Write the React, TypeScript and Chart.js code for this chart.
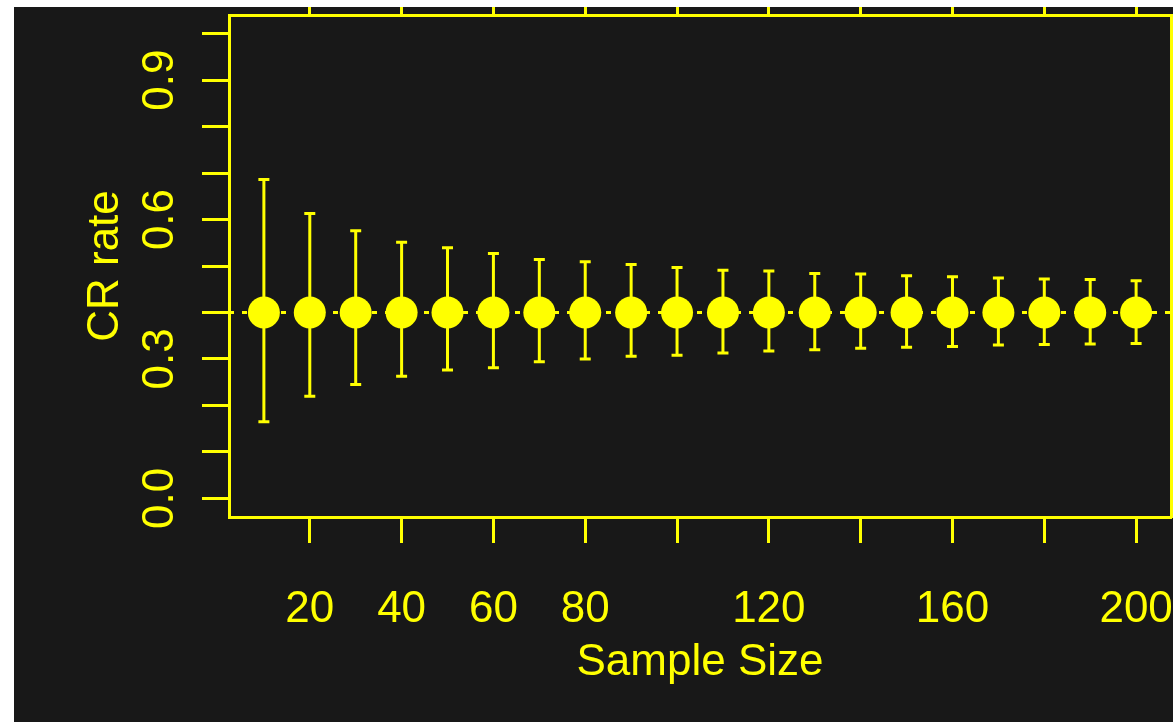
import React, { useEffect, useRef } from "react";
import { Chart, registerables } from "chart.js";

Chart.register(...registerables);

const sampleSizes = [10, 20, 30, 40, 50, 60, 70, 80, 90, 100, 110, 120, 130, 140, 150, 160, 170, 180, 190, 200];
const crRate = [0.4, 0.4, 0.4, 0.4, 0.4, 0.4, 0.4, 0.4, 0.4, 0.4, 0.4, 0.4, 0.4, 0.4, 0.4, 0.4, 0.4, 0.4, 0.4, 0.4];
const ciUpper = [0.686, 0.613, 0.576, 0.551, 0.539, 0.527, 0.514, 0.509, 0.503, 0.497, 0.491, 0.489, 0.484, 0.483, 0.479, 0.477, 0.474, 0.472, 0.471, 0.468];
const ciLower = [0.165, 0.22, 0.245, 0.263, 0.276, 0.281, 0.294, 0.3, 0.306, 0.308, 0.313, 0.317, 0.32, 0.323, 0.325, 0.327, 0.33, 0.331, 0.332, 0.333];
const referenceRate = 0.4;

const xTickValues = [20, 40, 60, 80, 100, 120, 140, 160, 180, 200];
const xTickLabels = ["20", "40", "60", "80", "", "120", "", "160", "", "200"];
const yTickValues = [0, 0.1, 0.2, 0.3, 0.4, 0.5, 0.6, 0.7, 0.8, 0.9, 1.0];
const yLabelValues = [0, 0.3, 0.6, 0.9];
const yLabelTexts = ["0.0", "0.3", "0.6", "0.9"];

const xTitle = "Sample Size";
const yTitle = "CR rate";

const X_MIN = 2.4;
const X_MAX = 207.6;
const Y_MIN = -0.04;
const Y_MAX = 1.04;

const FG = "#ffff00";
const BG = "#181818";
const FONT = '44px "Liberation Sans", Arial, Helvetica, sans-serif';

const W = 1159;
const H = 715;

export default function App() {
  const ref = useRef<HTMLCanvasElement | null>(null);

  useEffect(() => {
    const canvas = ref.current;
    if (!canvas) return;

    const errorBars = {
      id: "errorBars",
      beforeDatasetsDraw(chart: any) {
        const { ctx, chartArea } = chart;
        const xs = chart.scales.x;
        const ys = chart.scales.y;
        ctx.save();
        ctx.strokeStyle = FG;
        ctx.lineWidth = 3;
        ctx.setLineDash([5, 8]);
        const yr = ys.getPixelForValue(referenceRate);
        ctx.beginPath();
        ctx.moveTo(chartArea.left, yr);
        ctx.lineTo(chartArea.right, yr);
        ctx.stroke();
        ctx.setLineDash([]);
        ctx.lineWidth = 3;
        for (let i = 0; i < sampleSizes.length; i++) {
          const px = xs.getPixelForValue(sampleSizes[i]);
          const pu = ys.getPixelForValue(ciUpper[i]);
          const pl = ys.getPixelForValue(ciLower[i]);
          ctx.beginPath();
          ctx.moveTo(px, pu);
          ctx.lineTo(px, pl);
          ctx.moveTo(px - 5.5, pu);
          ctx.lineTo(px + 5.5, pu);
          ctx.moveTo(px - 5.5, pl);
          ctx.lineTo(px + 5.5, pl);
          ctx.stroke();
        }
        ctx.restore();
      },
    };

    const axisText = {
      id: "axisText",
      afterDraw(chart: any) {
        const { ctx, chartArea } = chart;
        const xs = chart.scales.x;
        const ys = chart.scales.y;
        ctx.save();
        ctx.fillStyle = FG;
        ctx.font = FONT;
        ctx.textAlign = "center";
        ctx.textBaseline = "alphabetic";
        for (let i = 0; i < xTickValues.length; i++) {
          if (!xTickLabels[i]) continue;
          ctx.fillText(xTickLabels[i], xs.getPixelForValue(xTickValues[i]), 615);
        }
        ctx.fillText(xTitle, (chartArea.left + chartArea.right) / 2, 668);
        for (let i = 0; i < yLabelValues.length; i++) {
          ctx.save();
          ctx.translate(159, ys.getPixelForValue(yLabelValues[i]));
          ctx.rotate(-Math.PI / 2);
          ctx.fillText(yLabelTexts[i], 0, 0);
          ctx.restore();
        }
        ctx.save();
        ctx.translate(104, (chartArea.top + chartArea.bottom) / 2);
        ctx.rotate(-Math.PI / 2);
        ctx.fillText(yTitle, 0, 0);
        ctx.restore();
        ctx.restore();
      },
    };

    const tickSetX = (scale: any) => {
      scale.ticks = xTickValues.map((v) => ({ value: v }));
    };
    const tickSetY = (scale: any) => {
      scale.ticks = yTickValues.map((v) => ({ value: v }));
    };

    const gridOpts = (len: number) => ({
      display: true,
      drawOnChartArea: false,
      drawTicks: true,
      tickLength: len,
      tickWidth: 3,
      tickColor: FG,
      color: FG,
    });

    const chart = new Chart(canvas, {
      type: "scatter",
      data: {
        datasets: [
          {
            data: sampleSizes.map((s, i) => ({ x: s, y: crRate[i] })),
            pointRadius: 16,
            pointHoverRadius: 16,
            pointStyle: "circle",
            backgroundColor: FG,
            borderColor: FG,
            borderWidth: 0,
          },
        ],
      },
      options: {
        animation: false,
        responsive: false,
        maintainAspectRatio: false,
        devicePixelRatio: 1,
        layout: { padding: 0, autoPadding: false },
        plugins: {
          legend: { display: false },
          tooltip: { enabled: false },
        },
        events: [],
        scales: {
          x: {
            type: "linear",
            position: "bottom",
            min: X_MIN,
            max: X_MAX,
            afterBuildTicks: tickSetX,
            afterFit: (s: any) => {
              s.height = 205;
            },
            ticks: { display: false },
            grid: gridOpts(26),
            border: { display: true, color: FG, width: 3 },
          },
          x2: {
            type: "linear",
            position: "top",
            min: X_MIN,
            max: X_MAX,
            afterBuildTicks: tickSetX,
            afterFit: (s: any) => {
              s.height = 8;
            },
            ticks: { display: false },
            grid: gridOpts(8),
            border: { display: true, color: FG, width: 3 },
          },
          y: {
            type: "linear",
            position: "left",
            min: Y_MIN,
            max: Y_MAX,
            afterBuildTicks: tickSetY,
            afterFit: (s: any) => {
              s.width = 215;
            },
            ticks: { display: false },
            grid: gridOpts(27),
            border: { display: true, color: FG, width: 3 },
          },
          y2: {
            type: "linear",
            position: "right",
            min: Y_MIN,
            max: Y_MAX,
            afterBuildTicks: tickSetY,
            afterFit: (s: any) => {
              s.width = 2;
            },
            ticks: { display: false },
            grid: gridOpts(2),
            border: { display: true, color: FG, width: 3 },
          },
        },
      },
      plugins: [errorBars, axisText],
    } as any);

    return () => chart.destroy();
  }, []);

  return (
    <div style={{ position: "absolute", left: 0, top: 0, width: 1173, height: 722, background: "#ffffff", overflow: "hidden" }}>
      <div style={{ position: "absolute", left: 14, top: 7, width: W, height: H, background: BG }}>
        <canvas ref={ref} width={W} height={H} style={{ display: "block", width: W, height: H }} />
      </div>
    </div>
  );
}
